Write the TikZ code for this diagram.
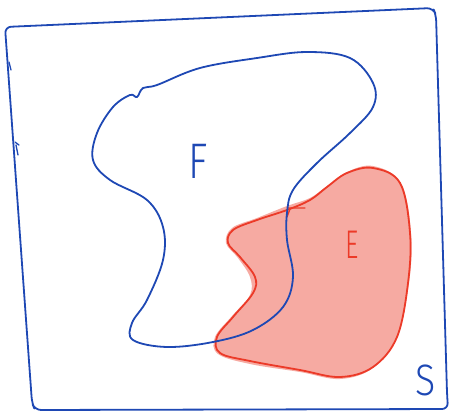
\documentclass[tikz,border=0pt]{standalone}
\usepackage{fontspec}
\newfontfamily\thinfont{Fira Sans Light}
\definecolor{pen}{RGB}{30,72,180}
\definecolor{redpen}{RGB}{236,58,40}
\definecolor{salmon}{RGB}{246,170,162}
\begin{document}
\begin{tikzpicture}[x=1pt,y=-1pt,
  bluepen/.style={draw=pen,line width=1.8pt,line cap=round,line join=round},
  redline/.style={draw=redpen,line width=1.8pt,line cap=round,line join=round},
  lab/.style={inner sep=0pt}]
\useasboundingbox (0,0) rectangle (454,412);
% frame S
\draw[bluepen,rounded corners=6pt] (5,27) -- (433,8) -- (436,15) -- (447,393) -- (448,409) -- (35,410) -- (32,403) -- cycle;
\draw[bluepen,line width=1.3pt] (9,62) -- (11,70);
\draw[bluepen,line width=1.3pt] (15,142) -- (19,145) (16,145) -- (18,155);
% E (filled)
\fill[salmon] plot[smooth cycle,tension=0.6] coordinates {
 (373,166) (401,183) (411,233) (409,283) (397,337) (373,368) (340,379) (300,372)
 (250,364) (218,354) (215,337) (232,316) (250,295) (250,277) (238,258) (226,243)
 (232,228) (257,218) (287,206) (310,198) (327,186) (347,172)};
\draw[redline] plot[smooth cycle,tension=0.6] coordinates {
 (373,168) (400,183) (410,233) (408,283) (397,337) (373,367) (340,377) (300,370)
 (250,361) (220,353) (217,337) (233,317) (253,293) (255,277) (240,257) (228,243)
 (233,230) (257,220) (287,210) (310,200) (327,187) (347,173)};
\draw[redline,line width=1.3pt] (288,208) -- (305,208) (290,209) -- (287,217);
% F blob
\draw[bluepen] plot[smooth cycle,tension=0.6] coordinates {
 (157,85) (200,68) (257,58) (307,52) (350,58) (373,83) (373,107) (350,133)
 (317,163) (293,190) (287,213) (287,240) (293,277) (283,307) (253,330) (213,342)
 (167,347) (133,340) (132,323) (147,300) (163,260) (163,227) (147,200) (110,180)
 (93,160) (97,133) (113,107) (130,95) (137,97) (143,88)};
% labels
\node[lab,text=pen,xscale=0.8,font=\thinfont\fontsize{50}{50}\selectfont] (F) at (198,161) {F};
\node[lab,text=redpen,xscale=0.65,font=\thinfont\fontsize{40}{40}\selectfont] (E) at (352,245) {E};
\node[lab,text=pen,xscale=0.85,font=\thinfont\fontsize{44}{44}\selectfont] (S) at (426,380) {S};
\end{tikzpicture}
\end{document}
